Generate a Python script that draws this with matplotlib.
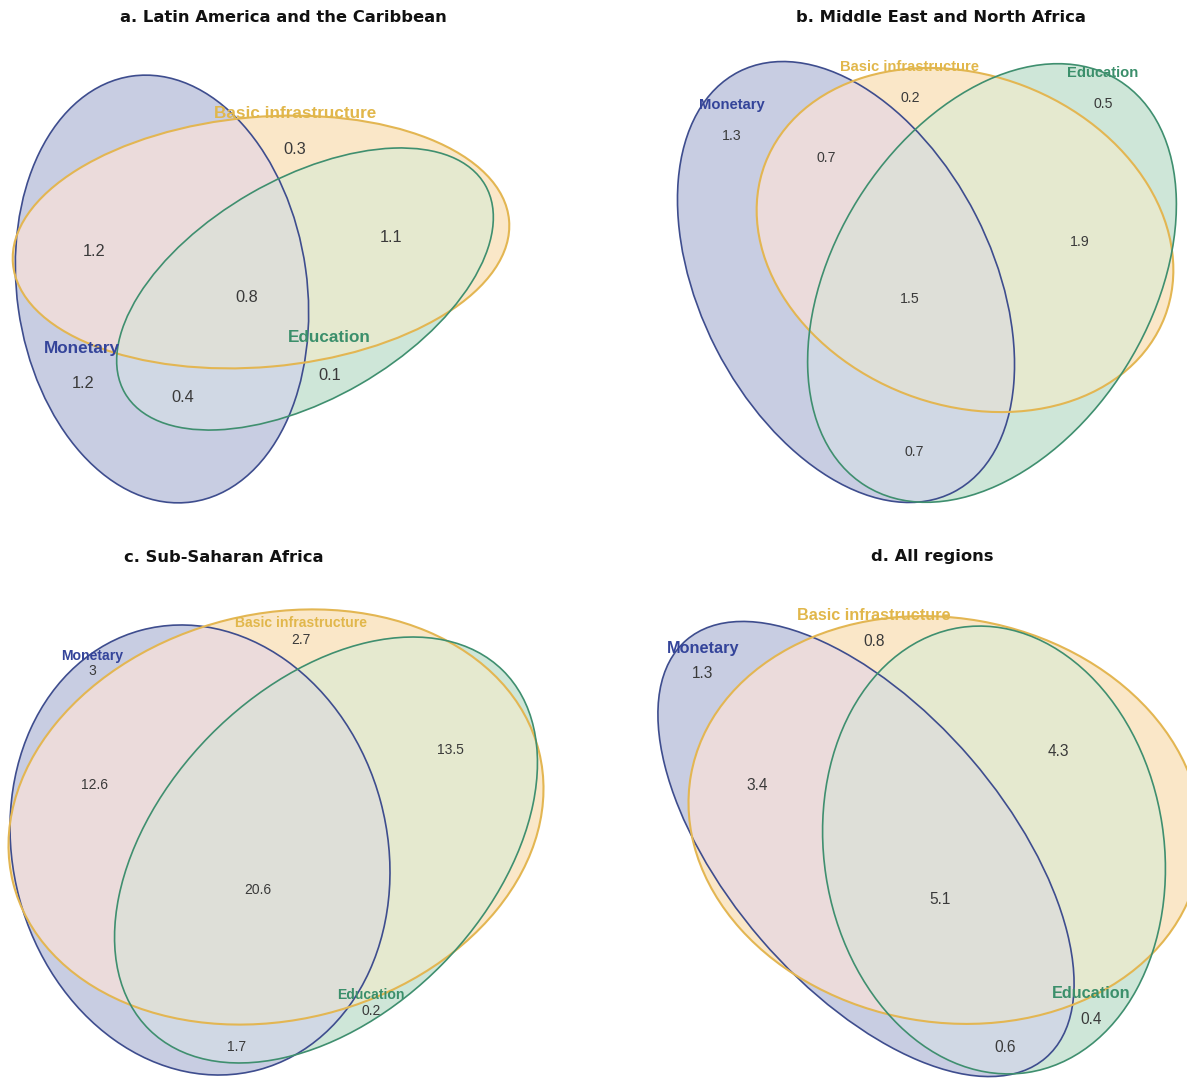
import numpy as np
import matplotlib
matplotlib.use("Agg")
import matplotlib.pyplot as plt
from matplotlib.patches import Ellipse

# figure size in pixels
W, H = 1187, 1078

titles = ["a. Latin America and the Caribbean",
          "b. Middle East and North Africa",
          "c. Sub-Saharan Africa",
          "d. All regions"]
set_names = ["Monetary", "Basic infrastructure", "Education"]

# region order: M, B, E, MB, ME, BE, MBE
vals_a = [1.2, 0.3, 0.1, 1.2, 0.4, 1.1, 0.8]
vals_b = [1.3, 0.2, 0.5, 0.7, 0.7, 1.9, 1.5]
vals_c = [3, 2.7, 0.2, 12.6, 1.7, 13.5, 20.6]
vals_d = [1.3, 0.8, 0.4, 3.4, 0.6, 4.3, 5.1]
all_vals = [vals_a, vals_b, vals_c, vals_d]

# layout (pixels, y down): ellipses (cx, cy, w, h, angle) for M, B, E
ellipses = [
    [(162, 289, 290, 430, -8), (261, 242, 498, 250, -5), (305, 289, 416, 220, -30)],
    [(846, 282, 292, 472, -27), (965, 240, 428, 330, 21), (992, 283, 316, 478, 32)],
    [(200, 850, 374, 455, -15), (276, 817, 542, 406, -14), (326, 850, 326, 504, 44.5)],
    [(866, 849, 277, 551, -40.7), (945, 820, 516, 404, 10), (994, 850, 340, 450, -8.6)],
]
title_pos = [(283, 17), (941, 17), (224, 557), (932, 557)]
name_pos = [
    [(82, 348), (295, 114), (329, 338)],
    [(732, 105), (910, 67), (1103, 73)],
    [(92, 656), (301, 623), (371, 995)],
    [(703, 648), (874, 616), (1091, 994)],
]
val_pos = [
    [(83, 384), (295, 150), (330, 375), (94, 252), (183, 397), (391, 238), (247, 297)],
    [(732, 136), (910, 98), (1103, 104), (826, 158), (914, 452), (1080, 242), (910, 299)],
    [(92, 671), (301, 640), (371, 1011), (94, 785), (237, 1047), (450, 750), (258, 890)],
    [(703, 673), (874, 641), (1091, 1019), (757, 785), (1005, 1048), (1058, 752), (940, 899)],
]
name_fs = [12.3, 10.6, 10.1, 11.7]
val_fs = [11.8, 10.2, 10.0, 11.2]

edge_cols = ["#3e4d8e", "#e3b652", "#3f8f6f"]
text_cols = ["#34449a", "#e1b74b", "#3b8f6b"]
# fill colour per membership code (M=1, B=2, E=4)
region_cols = {0: "#ffffff", 1: "#c8cde2", 2: "#fae7c8", 4: "#cee6d8",
               3: "#ebdbdb", 5: "#d0d8e4", 6: "#e5e9cf", 7: "#dedfd8"}


def inside(X, Y, e):
    cx, cy, w, h, ang = e
    t = np.deg2rad(ang)
    dx, dy = X - cx, Y - cy
    u = dx * np.cos(t) + dy * np.sin(t)
    v = -dx * np.sin(t) + dy * np.cos(t)
    return (u / (w / 2)) ** 2 + (v / (h / 2)) ** 2 <= 1


X, Y = np.meshgrid(np.arange(W) + 0.5, np.arange(H) + 0.5)
code = np.zeros((H, W), dtype=int)
for panel in ellipses:
    for k, e in enumerate(panel):
        code |= inside(X, Y, e).astype(int) << k

img = np.ones((H, W, 3))
for c, col in region_cols.items():
    img[code == c] = matplotlib.colors.to_rgb(col)

fig = plt.figure(figsize=(W / 100, H / 100), dpi=100)
ax = fig.add_axes([0, 0, 1, 1])
ax.imshow(img, extent=(0, W, H, 0), interpolation="nearest")
ax.set_xlim(0, W)
ax.set_ylim(H, 0)
ax.axis("off")

for p in range(4):
    for k, (cx, cy, w, h, ang) in enumerate(ellipses[p]):
        lw = 1.5 if k == 1 else 1.2
        ax.add_patch(Ellipse((cx, cy), w, h, angle=ang, fill=False,
                             edgecolor=edge_cols[k], lw=lw))
    tx, ty = title_pos[p]
    ax.text(tx, ty, titles[p], ha="center", va="center", fontsize=11.8,
            fontweight="bold", family="DejaVu Sans", color="#111111")
    for k, (nx, ny) in enumerate(name_pos[p]):
        ax.text(nx, ny, set_names[k], ha="center", va="center",
                fontsize=name_fs[p], fontweight="bold",
                family="Liberation Sans", color=text_cols[k])
    for v, (vx, vy) in zip(all_vals[p], val_pos[p]):
        ax.text(vx, vy, f"{v:g}", ha="center", va="center",
                fontsize=val_fs[p], family="Liberation Sans", color="#3a3a3a")

fig.savefig("out.png", dpi=100)
